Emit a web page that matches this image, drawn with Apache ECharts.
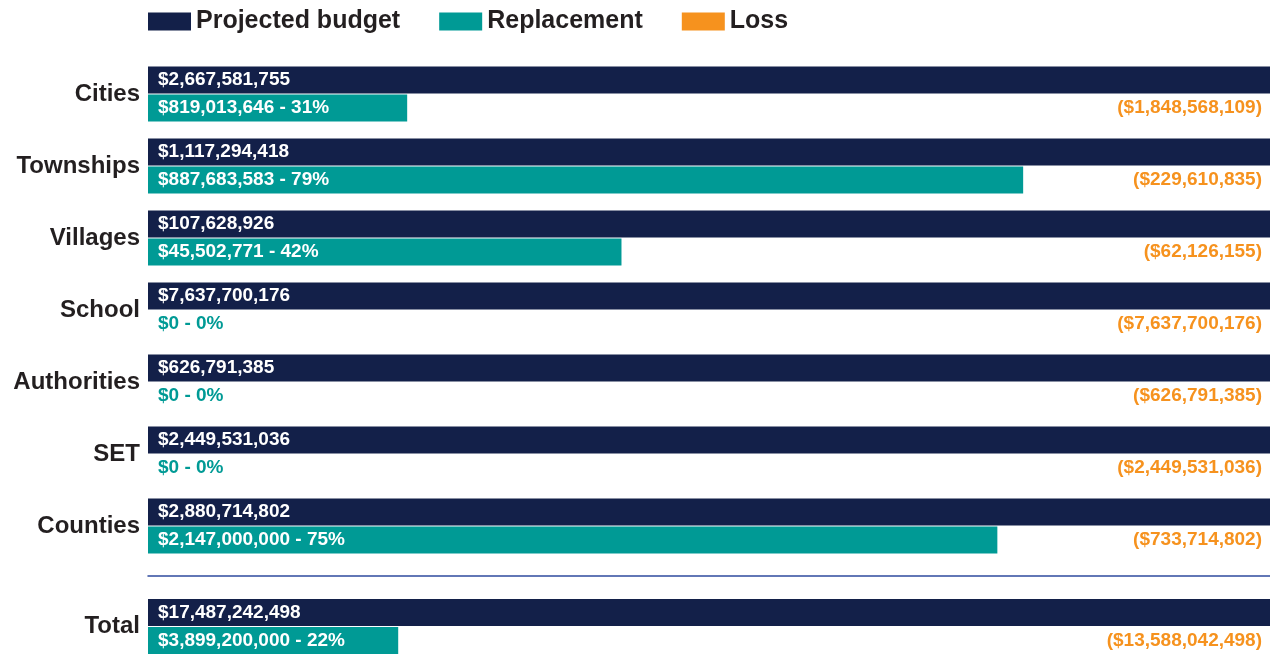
<!DOCTYPE html>
<html>
<head>
<meta charset="utf-8">
<script src="https://cdn.jsdelivr.net/npm/echarts@6/dist/echarts.min.js"></script>
<style>
  html, body { margin: 0; padding: 0; background: #fff; }
  #chart { width: 1270px; height: 654px; }
</style>
</head>
<body>
<div id="chart"></div>
<script>
// rows
const categories = ['Cities', 'Townships', 'Villages', 'School', 'Authorities', 'SET', 'Counties']
const budget = [2667581755, 1117294418, 107628926, 7637700176, 626791385, 2449531036, 2880714802]
const replacement = [819013646, 887683583, 45502771, 0, 0, 0, 2147000000]
const replacementPct = [31, 79, 42, 0, 0, 0, 75]
const loss = [1848568109, 229610835, 62126155, 7637700176, 626791385, 2449531036, 733714802]
// drawn length of the teal bar, % of the budget bar
const replacementShare = [23.1, 78.0, 42.2, 0, 0, 0, 75.7]

// total row
const totalCategory = ['Total']
const totalBudget = [17487242498]
const totalReplacement = [3899200000]
const totalPct = [22]
const totalLoss = [13588042498]
const totalShare = [22.3]

const NAVY = '#132049'
const TEAL = '#009a95'
const ORANGE = '#f6921e'
const TEXT = '#231f20'

const money = (n) => '$' + n.toLocaleString('en-US')
const labelFont = { fontFamily: 'Liberation Sans, Arial, sans-serif', fontWeight: 'bold', fontSize: 19 }

function rowSeries(idx, budgetArr, replArr, pctArr, lossArr, shareArr) {
    return [{
        name: 'Projected budget',
        type: 'bar',
        xAxisIndex: idx,
        yAxisIndex: idx,
        barWidth: 27,
        barGap: '4%',
        itemStyle: { color: NAVY },
        data: budgetArr.map(() => 100),
        label: {
            show: true,
            position: 'insideLeft',
            distance: 10,
            color: '#fff',
            ...labelFont,
            formatter: (p) => money(budgetArr[p.dataIndex])
        }
    }, {
        name: 'Replacement',
        type: 'bar',
        stack: 'r' + idx,
        xAxisIndex: idx,
        yAxisIndex: idx,
        barWidth: 27,
        itemStyle: { color: TEAL },
        data: shareArr.map((v) => ({
            value: v,
            label: { color: v > 0 ? '#fff' : TEAL }
        })),
        label: {
            show: true,
            position: 'insideLeft',
            distance: 10,
            ...labelFont,
            formatter: (p) => money(replArr[p.dataIndex]) + ' - ' + pctArr[p.dataIndex] + '%'
        }
    }, {
        name: 'Loss',
        type: 'bar',
        stack: 'r' + idx,
        xAxisIndex: idx,
        yAxisIndex: idx,
        barWidth: 27,
        itemStyle: { color: 'rgba(0,0,0,0)' },
        data: shareArr.map((v) => 100 - v),
        label: {
            show: true,
            position: 'insideRight',
            distance: 8,
            color: ORANGE,
            ...labelFont,
            formatter: (p) => '(' + money(lossArr[p.dataIndex]) + ')'
        }
    }]
}

const catAxis = (data, idx) => ({
    type: 'category',
    gridIndex: idx,
    data: data,
    inverse: true,
    axisLine: { show: false },
    axisTick: { show: false },
    axisLabel: {
        margin: 8,
        color: TEXT,
        fontFamily: 'Liberation Sans, Arial, sans-serif',
        fontWeight: 'bold',
        fontSize: 24
    }
})

const chart = echarts.init(document.getElementById('chart'))
const option = {
    animation: false,
    legend: {
        left: 148,
        top: 9,
        padding: 0,
        itemWidth: 43,
        itemHeight: 18,
        itemGap: 39,
        icon: 'rect',
        textStyle: {
            color: TEXT,
            fontFamily: 'Liberation Sans, Arial, sans-serif',
            fontWeight: 'bold',
            fontSize: 25
        },
        data: [
            { name: 'Projected budget', itemStyle: { color: NAVY } },
            { name: 'Replacement', itemStyle: { color: TEAL } },
            { name: 'Loss', itemStyle: { color: ORANGE } }
        ]
    },
    grid: [
        { left: 148, right: 0, top: 58, height: 504 },
        { left: 148, right: 0, top: 599, height: 56 }
    ],
    xAxis: [{
        type: 'value', gridIndex: 0, min: 0, max: 100, show: false
    }, {
        type: 'value', gridIndex: 1, min: 0, max: 100,
        position: 'top',
        offset: 23,
        axisLine: { show: true, lineStyle: { color: '#2f4b9f', width: 1.5 } },
        axisTick: { show: false },
        axisLabel: { show: false },
        splitLine: { show: false }
    }],
    yAxis: [catAxis(categories, 0), catAxis(totalCategory, 1)],
    series: [
        ...rowSeries(0, budget, replacement, replacementPct, loss, replacementShare),
        ...rowSeries(1, totalBudget, totalReplacement, totalPct, totalLoss, totalShare)
    ]
}
chart.setOption(option)
window.addEventListener('resize', function () {
    chart.resize()
})
</script>
</body>
</html>
